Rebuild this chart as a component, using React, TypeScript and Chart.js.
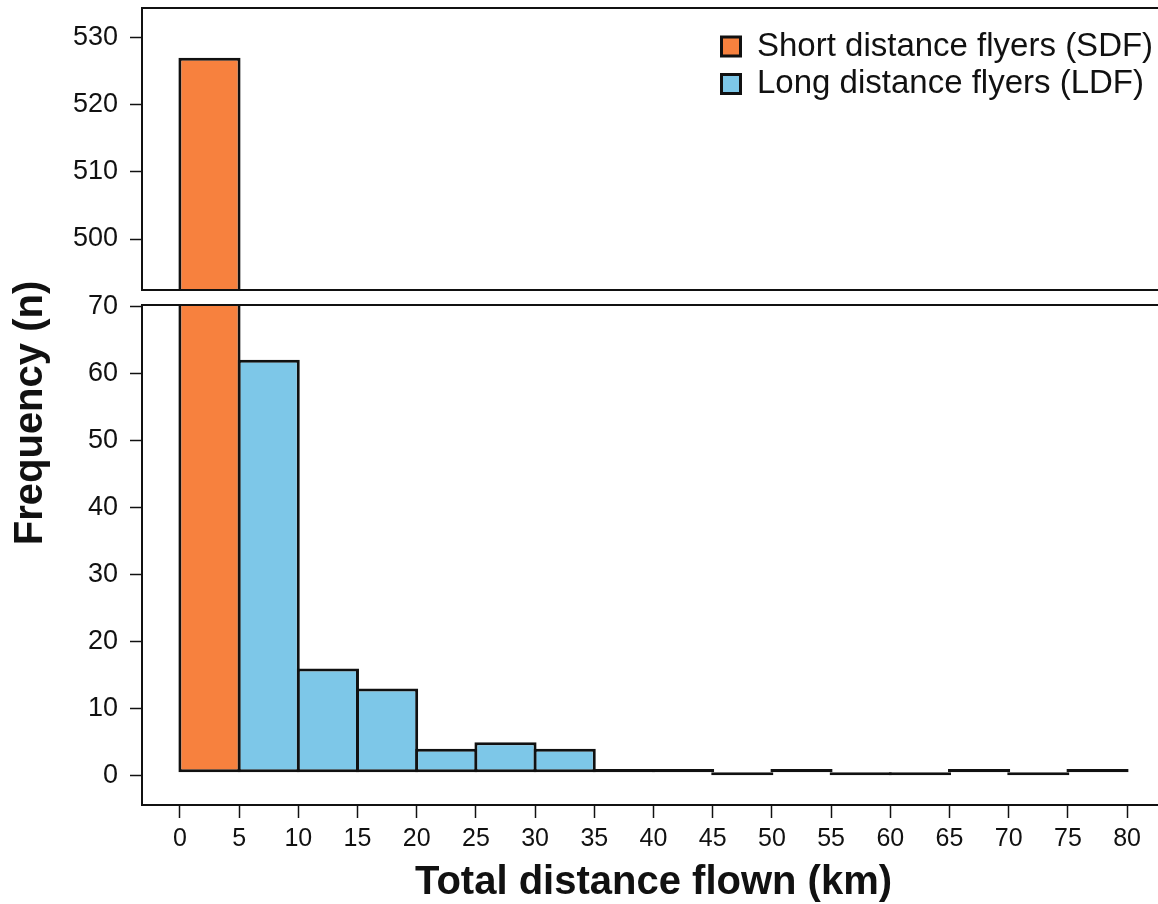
import React, { useEffect, useRef } from 'react';
import { Chart, registerables } from 'chart.js';

Chart.register(...registerables);

// ---------------- data ----------------
const seriesLabels = ['Short distance flyers (SDF)', 'Long distance flyers (LDF)'];
const xTitle = 'Total distance flown (km)';
const yTitle = 'Frequency (n)';

const xTicks = [0, 5, 10, 15, 20, 25, 30, 35, 40, 45, 50, 55, 60, 65, 70, 75, 80];
const yTicksTop = [500, 510, 520, 530];
const yTicksBottom = [0, 10, 20, 30, 40, 50, 60, 70];

// histogram bins (bin centres, km) and counts
const sdfBinCentres = [2.5];
const sdfCounts = [527];
const ldfBinCentres = [7.5, 12.5, 17.5, 22.5, 27.5, 32.5, 37.5, 42.5, 47.5, 52.5, 57.5, 62.5, 67.5, 72.5, 77.5];
const ldfCounts = [62, 16, 13, 4, 5, 4, 1, 1, 0, 1, 0, 0, 1, 0, 1];
const barBase = 0.5;

// axis ranges (broken y axis: two panels)
const xRange = [-3.2, 83.2];
const yRangeTop = [492.4, 534.43];
const yRangeBottom = [-4.37, 70.18];

// ---------------- style ----------------
const FONT = '"Liberation Sans", Arial, Helvetica, sans-serif';
const SDF_COLOR = '#F7813E';
const LDF_COLOR = '#7DC7E8';
const EDGE = '#111111';
const TEXT = '#111111';

Chart.defaults.font.family = FONT;

const barStyle = {
  borderColor: EDGE,
  borderWidth: 3,
  borderSkipped: false,
  grouped: false,
  barPercentage: 1.05,
  categoryPercentage: 1,
  clip: 0,
};

const makeDatasets = () => [
  {
    label: seriesLabels[0],
    data: sdfBinCentres.map((x, i) => ({ x, y: [barBase, sdfCounts[i]] })),
    backgroundColor: SDF_COLOR,
    ...barStyle,
  },
  {
    label: seriesLabels[1],
    data: ldfBinCentres.map((x, i) => ({ x, y: [barBase, ldfCounts[i]] })),
    backgroundColor: LDF_COLOR,
    ...barStyle,
  },
];

const framePlugin = {
  id: 'frame',
  afterDatasetsDraw(chart: any) {
    const { ctx, chartArea: a } = chart;
    ctx.save();
    ctx.strokeStyle = EDGE;
    ctx.lineWidth = 2;
    ctx.strokeRect(a.left, a.top, a.right - a.left, a.bottom - a.top);
    ctx.restore();
  },
};

const yTitlePlugin = {
  id: 'yTitle',
  afterDraw(chart: any, _args: any, opts: any) {
    const { ctx } = chart;
    ctx.save();
    ctx.translate(opts.x, opts.y);
    ctx.rotate(-Math.PI / 2);
    ctx.font = `bold ${opts.size}px ${FONT}`;
    ctx.fillStyle = TEXT;
    ctx.textAlign = 'center';
    ctx.textBaseline = 'middle';
    ctx.fillText(opts.text, 0, 0);
    ctx.restore();
  },
};

const legendPlacer = {
  id: 'legendPlacer',
  afterLayout(chart: any, _args: any, opts: any) {
    const lg = chart.legend;
    if (!lg) return;
    lg.left = opts.left;
    lg.top = opts.top;
    lg.right = lg.left + lg.width;
    lg.bottom = lg.top + lg.height;
  },
};

const zeroPadding = (s: any) => {
  s.paddingTop = 0;
  s.paddingBottom = 0;
  s.paddingLeft = 0;
  s.paddingRight = 0;
};

const yAxis = (range: number[], ticks: number[]) => ({
  type: 'linear',
  min: range[0],
  max: range[1],
  afterBuildTicks: (s: any) => {
    s.ticks = ticks.map((v) => ({ value: v }));
  },
  afterFit: (s: any) => {
    s.width = 142;
    zeroPadding(s);
  },
  grid: { offset: false, drawOnChartArea: false, drawTicks: true, tickLength: 12, tickColor: EDGE, tickWidth: 1.5 },
  border: { display: false },
  ticks: { font: { size: 27 }, color: TEXT, padding: 12, autoSkip: false },
});

export default function App() {
  const topRef = useRef<HTMLCanvasElement>(null);
  const botRef = useRef<HTMLCanvasElement>(null);

  useEffect(() => {
    const top = new Chart(topRef.current as HTMLCanvasElement, {
      type: 'bar',
      data: { datasets: makeDatasets() as any },
      plugins: [framePlugin, legendPlacer],
      options: {
        responsive: false,
        animation: false,
        devicePixelRatio: 1,
        layout: { padding: { top: 8, right: 10, bottom: 10, left: 0 } },
        scales: {
          x: {
            type: 'linear',
            display: false,
            min: xRange[0],
            max: xRange[1],
            offset: false,
            grid: { offset: false },
            afterBuildTicks: (s: any) => {
              s.ticks = xTicks.map((v) => ({ value: v }));
            },
            afterFit: zeroPadding,
          },
          y: yAxis(yRangeTop, yTicksTop) as any,
        },
        plugins: {
          tooltip: { enabled: false },
          legend: {
            display: true,
            position: 'chartArea',
            align: 'start',
            labels: {
              font: { size: 33 },
              color: TEXT,
              boxWidth: 19,
              boxHeight: 19,
              padding: 4.5,
            },
          },
          legendPlacer: { left: 717, top: 25.5 },
        } as any,
      },
    } as any);

    const bot = new Chart(botRef.current as HTMLCanvasElement, {
      type: 'bar',
      data: { datasets: makeDatasets() as any },
      plugins: [framePlugin, yTitlePlugin],
      options: {
        responsive: false,
        animation: false,
        devicePixelRatio: 1,
        layout: { padding: { top: 305, right: 10, bottom: 0, left: 0 } },
        scales: {
          x: {
            type: 'linear',
            min: xRange[0],
            max: xRange[1],
            offset: false,
            afterBuildTicks: (s: any) => {
              s.ticks = xTicks.map((v) => ({ value: v }));
            },
            afterFit: (s: any) => {
              s.height = 99;
              zeroPadding(s);
            },
            grid: { offset: false, drawOnChartArea: false, drawTicks: true, tickLength: 13, tickColor: EDGE, tickWidth: 1.5 },
            border: { display: false },
            ticks: { font: { size: 25 }, color: TEXT, padding: 6, maxRotation: 0, autoSkip: false },
            title: {
              display: true,
              text: xTitle,
              color: TEXT,
              font: { size: 40, weight: 'bold', lineHeight: 1 },
              padding: { top: 0, bottom: 1 },
            },
          },
          y: yAxis(yRangeBottom, yTicksBottom) as any,
        },
        plugins: {
          tooltip: { enabled: false },
          legend: { display: false },
          yTitle: { text: yTitle, x: 31, y: 413, size: 40 },
        } as any,
      },
    } as any);

    return () => {
      top.destroy();
      bot.destroy();
    };
  }, []);

  return (
    <div
      style={{
        position: 'absolute',
        left: 0,
        top: 0,
        width: 1158,
        height: 904,
        overflow: 'hidden',
        background: '#ffffff',
      }}
    >
      <canvas ref={botRef} width={1175} height={904} style={{ position: 'absolute', left: 0, top: 0 }} />
      <canvas ref={topRef} width={1175} height={300} style={{ position: 'absolute', left: 0, top: 0 }} />
    </div>
  );
}
